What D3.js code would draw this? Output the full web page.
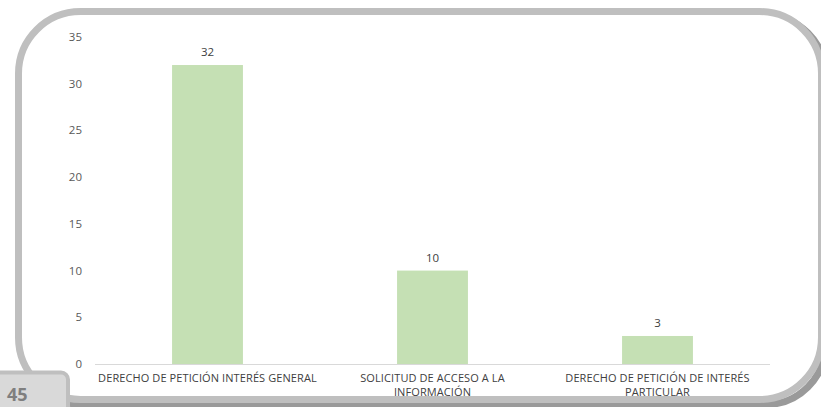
<!DOCTYPE html>
<html>
<head>
<meta charset="utf-8">
<script src="https://cdn.jsdelivr.net/npm/d3@7"></script>
<style>
  body { margin: 0; background: #fff; }
  svg { display: block; }
</style>
</head>
<body>
<div id="chart"></div>
<script>
var categories = [
  ["DERECHO DE PETICIÓN INTERÉS GENERAL"],
  ["SOLICITUD DE ACCESO A LA", "INFORMACIÓN"],
  ["DERECHO DE PETICIÓN DE INTERÉS", "PARTICULAR"]
];
var values = [32, 10, 3];
var yTicks = [0, 5, 10, 15, 20, 25, 30, 35];
var pageNumber = "45";

var width = 821, height = 407;
var margin = {top: 37, left: 95, right: 51, bottom: 43};

var svg = d3.select("#chart")
  .append("svg")
  .attr("width", width)
  .attr("height", height);

// frame shadow (bottom-right) and frame
svg.append("rect")
  .attr("x", 22.5).attr("y", 15.5)
  .attr("width", 803).attr("height", 389)
  .attr("rx", 60).attr("ry", 60)
  .style("fill", "none")
  .style("stroke", "#9a9a9a")
  .style("stroke-width", 7);

svg.append("rect")
  .attr("x", 18.5).attr("y", 11.5)
  .attr("width", 803).attr("height", 388)
  .attr("rx", 62).attr("ry", 62)
  .style("fill", "#fff")
  .style("stroke", "#bfbfbf")
  .style("stroke-width", 7);

var x = d3.scaleBand()
  .domain(d3.range(categories.length))
  .range([margin.left, width - margin.right])
  .paddingInner(0.685)
  .paddingOuter(0.3425);

var y = d3.scaleLinear()
  .domain([0, 35])
  .range([height - margin.bottom, margin.top]);

// y axis labels
svg.append("g")
  .selectAll("text")
  .data(yTicks)
  .enter().append("text")
  .attr("x", 82)
  .attr("y", function(d) { return y(d); })
  .attr("dy", "0.35em")
  .style("font-family", "'Open Sans', sans-serif")
  .style("font-size", "11.5px")
  .style("text-anchor", "end")
  .style("fill", "#595959")
  .text(function(d) { return d; });

// bars
svg.append("g")
  .selectAll("rect")
  .data(values)
  .enter().append("rect")
  .attr("x", function(d, i) { return x(i); })
  .attr("y", function(d) { return y(d); })
  .attr("width", x.bandwidth())
  .attr("height", function(d) { return y(0) - y(d); })
  .style("fill", "#c5e0b4");

// baseline
svg.append("line")
  .attr("x1", margin.left)
  .attr("x2", width - margin.right)
  .attr("y1", y(0) + 0.5)
  .attr("y2", y(0) + 0.5)
  .style("stroke", "#d9d9d9")
  .style("stroke-width", 1);

// value labels
svg.append("g")
  .selectAll("text")
  .data(values)
  .enter().append("text")
  .attr("x", function(d, i) { return x(i) + x.bandwidth() / 2; })
  .attr("y", function(d) { return y(d) - 9; })
  .style("font-family", "'Open Sans', sans-serif")
  .style("font-size", "11.5px")
  .style("text-anchor", "middle")
  .style("fill", "#404040")
  .text(function(d) { return d; });

// category labels
var cat = svg.append("g")
  .selectAll("text")
  .data(categories)
  .enter().append("text")
  .attr("x", function(d, i) { return x(i) + x.bandwidth() / 2; })
  .attr("y", y(0) + 18)
  .style("font-family", "'Open Sans', sans-serif")
  .style("font-size", "11px")
  .style("letter-spacing", "0.1px")
  .style("text-anchor", "middle")
  .style("fill", "#404040");

cat.selectAll("tspan")
  .data(function(d) { return d; })
  .enter().append("tspan")
  .attr("x", function() { return d3.select(this.parentNode).attr("x"); })
  .attr("dy", function(d, i) { return i === 0 ? 0 : 13.5; })
  .text(function(d) { return d; });

// page tab
svg.append("rect")
  .attr("x", -10).attr("y", 372.5)
  .attr("width", 78).attr("height", 45)
  .attr("rx", 7).attr("ry", 7)
  .style("fill", "#d9d9d9")
  .style("stroke", "#bfbfbf")
  .style("stroke-width", 4);

svg.append("text")
  .attr("x", 7)
  .attr("y", 401)
  .style("font-family", "'Open Sans', sans-serif")
  .style("font-size", "18px")
  .style("font-weight", "bold")
  .style("fill", "#7f7f7f")
  .text(pageNumber);
</script>
</body>
</html>
